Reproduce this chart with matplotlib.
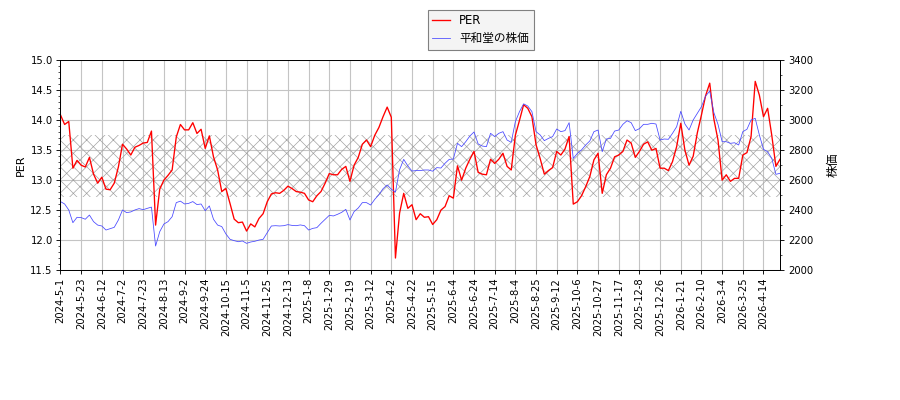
import matplotlib
matplotlib.use('Agg')
import matplotlib.pyplot as plt
from matplotlib.ticker import MultipleLocator, FormatStrFormatter
import numpy as np

plt.rcParams['font.family'] = ['DejaVu Sans', 'Noto Sans CJK JP']
plt.rcParams['font.size'] = 9
plt.rcParams['axes.unicode_minus'] = False
plt.rcParams['hatch.linewidth'] = 0.6

# 3 営業日ごとの読み取り値
step = 3
per = [14.09, 13.93, 13.98, 13.20, 13.33, 13.25, 13.22, 13.38, 13.10, 12.95,
       13.05, 12.85, 12.84, 12.95, 13.22, 13.60, 13.52, 13.42, 13.55, 13.58,
       13.62, 13.63, 13.82, 12.25, 12.85, 13.00, 13.08, 13.17, 13.72, 13.93,
       13.84, 13.84, 13.96, 13.78, 13.85, 13.53, 13.74, 13.39, 13.17, 12.81,
       12.86, 12.61, 12.35, 12.29, 12.30, 12.15, 12.27, 12.22, 12.36, 12.44,
       12.64, 12.77, 12.79, 12.78, 12.83, 12.90, 12.86, 12.81, 12.80, 12.78,
       12.67, 12.64, 12.74, 12.81, 12.95, 13.11, 13.09, 13.09, 13.18, 13.23,
       12.98, 13.25, 13.38, 13.60, 13.67, 13.56, 13.75, 13.88, 14.06, 14.22,
       14.05, 11.70, 12.45, 12.78, 12.53, 12.59, 12.34, 12.44, 12.38, 12.39,
       12.26, 12.34, 12.50, 12.56, 12.74, 12.70, 13.24, 13.00, 13.20, 13.35,
       13.48, 13.13, 13.10, 13.09, 13.35, 13.28, 13.35, 13.45, 13.23, 13.17,
       13.75, 14.00, 14.26, 14.20, 14.06, 13.59, 13.36, 13.10, 13.16, 13.21,
       13.48, 13.42, 13.52, 13.73, 12.60, 12.64, 12.74, 12.89, 13.06, 13.34,
       13.45, 12.78, 13.09, 13.20, 13.39, 13.42, 13.48, 13.67, 13.62, 13.38,
       13.48, 13.60, 13.64, 13.50, 13.53, 13.20, 13.20, 13.16, 13.31, 13.56,
       13.95, 13.50, 13.25, 13.40, 13.79, 14.09, 14.41, 14.62, 14.02, 13.67,
       13.00, 13.09, 12.98, 13.03, 13.03, 13.42, 13.46, 13.73, 14.65, 14.42,
       14.06, 14.20, 13.75, 13.23, 13.35]

price = [2457, 2441, 2401, 2316, 2352, 2350, 2339, 2367, 2323, 2300,
         2294, 2267, 2276, 2285, 2334, 2401, 2383, 2388, 2401, 2410,
         2403, 2412, 2420, 2160, 2256, 2307, 2323, 2356, 2450, 2460,
         2441, 2445, 2457, 2437, 2441, 2396, 2428, 2339, 2300, 2290,
         2241, 2205, 2196, 2189, 2194, 2178, 2187, 2192, 2200, 2205,
         2250, 2294, 2296, 2294, 2296, 2303, 2298, 2296, 2301, 2296,
         2267, 2278, 2283, 2312, 2339, 2365, 2361, 2372, 2385, 2405,
         2334, 2390, 2414, 2450, 2450, 2434, 2472, 2503, 2543, 2568,
         2540, 2520, 2670, 2739, 2695, 2661, 2664, 2664, 2668, 2668,
         2660, 2684, 2681, 2713, 2739, 2741, 2846, 2824, 2857, 2895,
         2922, 2842, 2828, 2824, 2913, 2891, 2913, 2924, 2868, 2853,
         2991, 3058, 3110, 3095, 3058, 2924, 2902, 2864, 2879, 2891,
         2942, 2924, 2931, 2984, 2745, 2779, 2802, 2835, 2862, 2924,
         2935, 2790, 2875, 2879, 2928, 2935, 2973, 2997, 2984, 2931,
         2944, 2973, 2973, 2980, 2975, 2868, 2875, 2873, 2913, 2957,
         3060, 2975, 2935, 3002, 3046, 3091, 3162, 3195, 3051, 2973,
         2857, 2857, 2846, 2850, 2835, 2924, 2940, 3002, 3013, 2902,
         2806, 2790, 2746, 2639, 2646]

tick_labels = ['2024-5-1', '2024-5-23', '2024-6-12', '2024-7-2', '2024-7-23',
               '2024-8-13', '2024-9-2', '2024-9-24', '2024-10-15', '2024-11-5',
               '2024-11-25', '2024-12-13', '2025-1-8', '2025-1-29', '2025-2-19',
               '2025-3-12', '2025-4-2', '2025-4-22', '2025-5-15', '2025-6-4',
               '2025-6-24', '2025-7-14', '2025-8-4', '2025-8-25', '2025-9-12',
               '2025-10-6', '2025-10-27', '2025-11-17', '2025-12-8', '2025-12-26',
               '2026-1-21', '2026-2-10', '2026-3-4', '2026-3-25', '2026-4-14']
tick_every = 15

band = (12.72, 13.75)

x = np.arange(len(per)) * step

fig = plt.figure(figsize=(11.25, 5), dpi=80)
ax1 = fig.add_axes([0.0672, 0.325, 0.7995, 0.524])
ax1.grid(True, color='#c4c4c4', linewidth=1)
ax1.set_axisbelow(True)

ax1.axhspan(band[0], band[1], facecolor='none', edgecolor='#a0a0a0', hatch='xx', linewidth=0)
l1, = ax1.plot(x, per, color='red', linewidth=1.2, label='PER')
ax1.set_ylim(11.5, 15.0)
ax1.set_xlim(0, x[-1])
ax1.yaxis.set_major_locator(MultipleLocator(0.5))
ax1.yaxis.set_minor_locator(MultipleLocator(0.1))
ax1.yaxis.set_major_formatter(FormatStrFormatter('%.1f'))
ax1.set_ylabel('PER', fontsize=10)
ax1.set_xticks(np.arange(len(tick_labels)) * tick_every)
ax1.set_xticklabels(tick_labels, rotation=90)

ax2 = ax1.twinx()
l2, = ax2.plot(x, price, color='#4848ff', linewidth=0.7, label='平和堂の株価')
ax2.set_ylim(2000, 3400)
ax2.yaxis.set_major_locator(MultipleLocator(200))
ax2.yaxis.set_minor_locator(MultipleLocator(100))
ax2.set_ylabel('株価', fontsize=11, labelpad=12)

fig.legend(handles=[l1, l2], loc='upper center', bbox_to_anchor=(0.534, 0.99),
           fancybox=False, edgecolor='#808080', facecolor='#f4f4f4', framealpha=1,
           fontsize=10.5, handlelength=1.5, handletextpad=0.8, labelspacing=0.4)

plt.savefig('out.png', dpi=80)
